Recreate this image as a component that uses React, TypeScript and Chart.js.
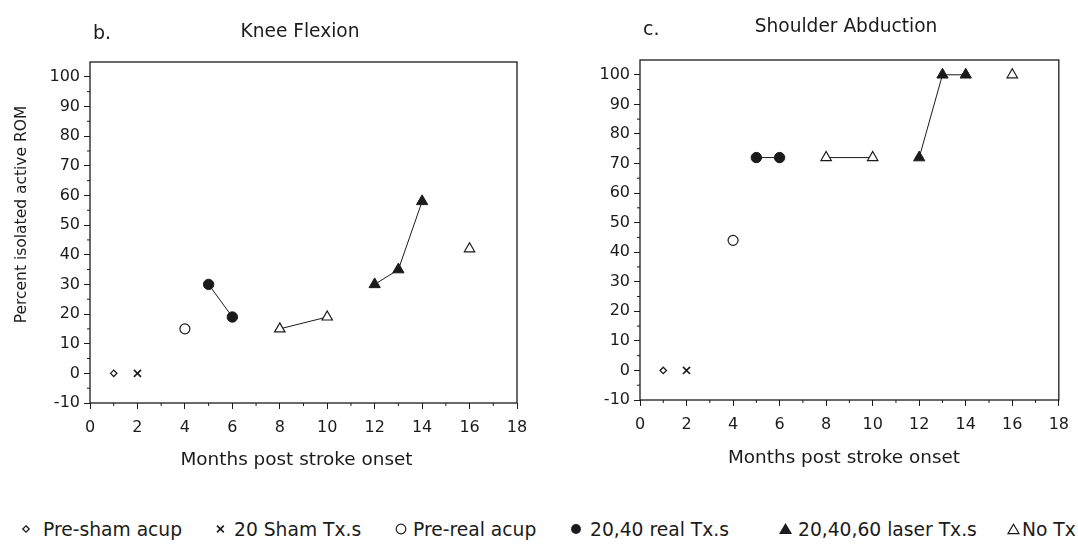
import React, { useEffect, useRef } from "react";
import { Chart, registerables } from "chart.js";

Chart.register(...registerables);

const INK = "#1b1b1b";
const FONT = '"DejaVu Sans", "Liberation Sans", sans-serif';

// Legend / series names
const seriesNames = [
  "Pre-sham acup",
  "20 Sham Tx.s",
  "Pre-real acup",
  "20,40 real Tx.s",
  "20,40,60 laser Tx.s",
  "No Tx",
];

// Months post stroke onset for each series (same in both panels)
const preShamMonths = [1];
const shamMonths = [2];
const preRealMonths = [4];
const realMonths = [5, 6];
const noTxMonths = [8, 10, 16];
const laserMonths = [12, 13, 14];
const noTxJoined = 2; // the first two "No Tx" points are joined by a line

// b. Knee Flexion — percent isolated active ROM
const kneePreSham = [0];
const kneeSham = [0];
const kneePreReal = [15];
const kneeReal = [30, 19];
const kneeNoTx = [15, 19, 42];
const kneeLaser = [30, 35, 58];

// c. Shoulder Abduction — percent isolated active ROM
const shoulderPreSham = [0];
const shoulderSham = [0];
const shoulderPreReal = [44];
const shoulderReal = [72, 72];
const shoulderNoTx = [72, 72, 100];
const shoulderLaser = [72, 100, 100];

// Axis ticks
const xTickValues = [0, 2, 4, 6, 8, 10, 12, 14, 16, 18];
const yTickValues = [-10, 0, 10, 20, 30, 40, 50, 60, 70, 80, 90, 100];
const xRange = [0, 18];
const yRange = [-10, 105];

type Vals = {
  preSham: number[];
  sham: number[];
  preReal: number[];
  real: number[];
  noTx: number[];
  laser: number[];
};

const pts = (xs: number[], ys: number[]) => xs.map((x, i) => ({ x, y: ys[i] }));

function buildDatasets(v: Vals) {
  const common = {
    borderColor: INK,
    pointBorderColor: INK,
    borderWidth: 1,
    pointHoverRadius: 0,
  };
  return [
    {
      ...common,
      label: seriesNames[0],
      data: pts(preShamMonths, v.preSham),
      showLine: false,
      pointStyle: "rectRot",
      pointRadius: 3.2,
      pointBackgroundColor: "#fff",
      pointBorderWidth: 1.3,
    },
    {
      ...common,
      label: seriesNames[1],
      data: pts(shamMonths, v.sham),
      showLine: false,
      pointStyle: "crossRot",
      pointRadius: 5,
      pointBorderWidth: 1.6,
    },
    {
      ...common,
      label: seriesNames[2],
      data: pts(preRealMonths, v.preReal),
      showLine: false,
      pointStyle: "circle",
      pointRadius: 5,
      pointBackgroundColor: "#fff",
      pointBorderWidth: 1.2,
    },
    {
      ...common,
      label: seriesNames[3],
      data: pts(realMonths, v.real),
      showLine: true,
      pointStyle: "circle",
      pointRadius: 5.2,
      pointBackgroundColor: INK,
      pointBorderWidth: 1,
    },
    {
      ...common,
      label: seriesNames[5],
      data: pts(noTxMonths.slice(0, noTxJoined), v.noTx.slice(0, noTxJoined)),
      showLine: true,
      pointStyle: "triangle",
      pointRadius: 6,
      pointBackgroundColor: "#fff",
      pointBorderWidth: 1.2,
    },
    {
      ...common,
      label: seriesNames[5] + " ",
      data: pts(noTxMonths.slice(noTxJoined), v.noTx.slice(noTxJoined)),
      showLine: false,
      pointStyle: "triangle",
      pointRadius: 6,
      pointBackgroundColor: "#fff",
      pointBorderWidth: 1.2,
    },
    {
      ...common,
      label: seriesNames[4],
      data: pts(laserMonths, v.laser),
      showLine: true,
      pointStyle: "triangle",
      pointRadius: 6.5,
      pointBackgroundColor: INK,
      pointBorderWidth: 1,
    },
  ];
}

type Decor = {
  panel: string;
  panelX: number;
  panelY: number;
  title: string;
  titleX: number;
  titleY: number;
  yTitle?: string;
  yTitleX?: number;
  yTitleY?: number;
  xTitle: string;
  xTitleX: number;
  xTitleY: number;
};

function decorPlugin(d: Decor) {
  return {
    id: "decor",
    afterDraw(chart: any) {
      const { ctx, chartArea: a, scales } = chart;
      ctx.save();
      ctx.strokeStyle = INK;
      ctx.lineWidth = 1.3;
      ctx.strokeRect(a.left, a.top, a.right - a.left, a.bottom - a.top);
      // minor ticks between labelled ticks
      ctx.lineWidth = 1;
      ctx.beginPath();
      for (let i = 0; i < yTickValues.length - 1; i++) {
        const p = scales.y.getPixelForValue((yTickValues[i] + yTickValues[i + 1]) / 2);
        ctx.moveTo(a.left - 3, p);
        ctx.lineTo(a.left, p);
      }
      for (let i = 0; i < xTickValues.length - 1; i++) {
        const p = scales.x.getPixelForValue((xTickValues[i] + xTickValues[i + 1]) / 2);
        ctx.moveTo(p, a.bottom);
        ctx.lineTo(p, a.bottom + 3);
      }
      ctx.stroke();

      ctx.fillStyle = INK;
      ctx.textBaseline = "alphabetic";
      ctx.font = `19px ${FONT}`;
      ctx.textAlign = "left";
      ctx.fillText(d.panel, d.panelX, d.panelY);
      ctx.font = `18.6px ${FONT}`;
      ctx.textAlign = "center";
      ctx.fillText(d.title, d.titleX, d.titleY);
      ctx.font = `18.4px ${FONT}`;
      ctx.fillText(d.xTitle, d.xTitleX, d.xTitleY);
      if (d.yTitle) {
        ctx.font = `15.5px ${FONT}`;
        ctx.textBaseline = "middle";
        ctx.translate(d.yTitleX as number, d.yTitleY as number);
        ctx.rotate(-Math.PI / 2);
        ctx.fillText(d.yTitle, 0, 0);
      }
      ctx.restore();
    },
  };
}

function makeConfig(v: Vals, yAxisWidth: number, xAxisHeight: number, padTop: number, padRight: number, d: Decor): any {
  return {
    type: "scatter",
    data: { datasets: buildDatasets(v) },
    plugins: [decorPlugin(d)],
    options: {
      animation: false,
      responsive: false,
      events: [],
      layout: { padding: { top: padTop, right: padRight, left: 0, bottom: 0 } },
      plugins: { legend: { display: false }, tooltip: { enabled: false }, title: { display: false } },
      scales: {
        x: {
          type: "linear",
          min: xRange[0],
          max: xRange[1],
          afterBuildTicks: (s: any) => {
            s.ticks = xTickValues.map((value) => ({ value }));
          },
          afterFit: (s: any) => {
            s.height = xAxisHeight;
          },
          ticks: {
            callback: (val: any) => String(val),
            font: { family: FONT, size: 16 },
            color: INK,
            padding: 9,
            maxRotation: 0,
            autoSkip: false,
          },
          grid: { drawOnChartArea: false, drawTicks: true, tickLength: 6, tickColor: INK, tickWidth: 1 },
          border: { display: false },
        },
        y: {
          type: "linear",
          min: yRange[0],
          max: yRange[1],
          afterBuildTicks: (s: any) => {
            s.ticks = yTickValues.map((value) => ({ value }));
          },
          afterFit: (s: any) => {
            s.width = yAxisWidth;
          },
          ticks: {
            callback: (val: any) => String(val),
            font: { family: FONT, size: 16 },
            color: INK,
            padding: 4,
            autoSkip: false,
          },
          grid: { drawOnChartArea: false, drawTicks: true, tickLength: 6, tickColor: INK, tickWidth: 1 },
          border: { display: false },
        },
      },
    },
  };
}

function ChartCanvas({ left, width, height, config }: { left: number; width: number; height: number; config: () => any }) {
  const ref = useRef<HTMLCanvasElement | null>(null);
  useEffect(() => {
    if (!ref.current) return;
    const chart = new Chart(ref.current, config());
    return () => chart.destroy();
  }, []);
  return (
    <canvas
      ref={ref}
      width={width}
      height={height}
      style={{ position: "absolute", left, top: 0, width, height }}
    />
  );
}

const LY = 19;

function LegendSymbols() {
  return (
    <svg width={1078} height={38} style={{ position: "absolute", left: 0, top: 510 }}>
      <polygon points={`26,${LY - 3.2} 29.2,${LY} 26,${LY + 3.2} 22.8,${LY}`} fill="#fff" stroke={INK} strokeWidth={1.3} />
      <line x1={217} y1={LY - 3.4} x2={223.8} y2={LY + 3.4} stroke={INK} strokeWidth={1.6} />
      <line x1={223.8} y1={LY - 3.4} x2={217} y2={LY + 3.4} stroke={INK} strokeWidth={1.6} />
      <circle cx={401} cy={LY} r={4.8} fill="#fff" stroke={INK} strokeWidth={1.2} />
      <circle cx={576} cy={LY} r={4.9} fill={INK} />
      <polygon points={`785.5,${LY - 6} 792,${LY + 5} 779,${LY + 5}`} fill={INK} />
      <polygon points={`1013.5,${LY - 4.8} 1019,${LY + 4.6} 1008,${LY + 4.6}`} fill="#fff" stroke={INK} strokeWidth={1.2} />
    </svg>
  );
}

const legendTextLeft = [43, 234, 413, 590, 798, 1022];
const legendOrder = [0, 1, 2, 3, 4, 5];

export default function App() {
  const kneeVals: Vals = {
    preSham: kneePreSham,
    sham: kneeSham,
    preReal: kneePreReal,
    real: kneeReal,
    noTx: kneeNoTx,
    laser: kneeLaser,
  };
  const shoulderVals: Vals = {
    preSham: shoulderPreSham,
    sham: shoulderSham,
    preReal: shoulderPreReal,
    real: shoulderReal,
    noTx: shoulderNoTx,
    laser: shoulderLaser,
  };

  const kneeConfig = () =>
    makeConfig(kneeVals, 90, 87, 62, 23, {
      panel: "b.",
      panelX: 93,
      panelY: 38.5,
      title: "Knee Flexion",
      titleX: 300,
      titleY: 36.5,
      yTitle: "Percent isolated active ROM",
      yTitleX: 21.5,
      yTitleY: 214.5,
      xTitle: "Months post stroke onset",
      xTitleX: 296.5,
      xTitleY: 465,
    });

  const shoulderConfig = () =>
    makeConfig(shoulderVals, 100, 90, 60, 13, {
      panel: "c.",
      panelX: 103,
      panelY: 35,
      title: "Shoulder Abduction",
      titleX: 306,
      titleY: 32,
      xTitle: "Months post stroke onset",
      xTitleX: 304,
      xTitleY: 463,
    });

  return (
    <div
      style={{
        position: "fixed",
        left: 0,
        top: 0,
        width: 1078,
        height: 548,
        background: "#fff",
        overflow: "hidden",
        fontFamily: FONT,
        color: INK,
      }}
    >
      <ChartCanvas left={0} width={540} height={490} config={kneeConfig} />
      <ChartCanvas left={540} width={538} height={490} config={shoulderConfig} />
      <LegendSymbols />
      {legendOrder.map((i) => (
        <span
          key={i}
          style={{
            position: "absolute",
            left: legendTextLeft[i],
            top: 520,
            fontSize: 18.7,
            lineHeight: "19px",
            whiteSpace: "nowrap",
          }}
        >
          {seriesNames[i]}
        </span>
      ))}
    </div>
  );
}
